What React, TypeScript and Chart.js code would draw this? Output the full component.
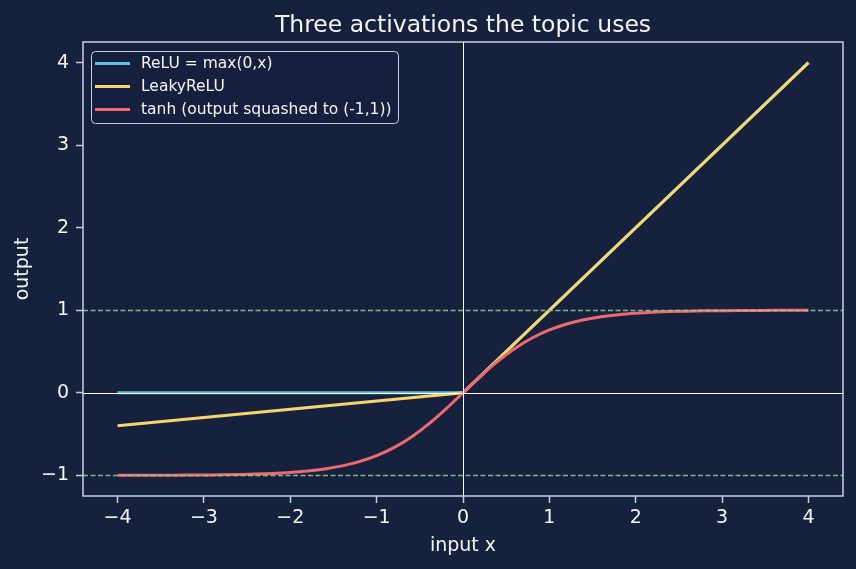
import React, { useEffect, useRef } from "react";
import { Chart, registerables } from "chart.js";

Chart.register(...registerables);

const TITLE = "Three activations the topic uses";
const X_LABEL = "input x";
const Y_LABEL = "output";

const xTicks = [-4, -3, -2, -1, 0, 1, 2, 3, 4];
const yTicks = [-1, 0, 1, 2, 3, 4];
const xRange = [-4.4, 4.4];
const yRange = [-1.25, 4.25];

const reluX = [-4, 0, 4];
const reluY = [0, 0, 4];
const leakyX = [-4, 0, 4];
const leakyY = [-0.4, 0, 4];

const tanhX = [
  -4, -3.8, -3.6, -3.4, -3.2, -3, -2.8, -2.6, -2.4, -2.2, -2, -1.8, -1.6, -1.4,
  -1.2, -1, -0.8, -0.6, -0.4, -0.2, 0, 0.2, 0.4, 0.6, 0.8, 1, 1.2, 1.4, 1.6,
  1.8, 2, 2.2, 2.4, 2.6, 2.8, 3, 3.2, 3.4, 3.6, 3.8, 4,
];
const tanhY = [
  -0.999, -0.999, -0.999, -0.998, -0.997, -0.995, -0.993, -0.989, -0.984,
  -0.976, -0.964, -0.947, -0.922, -0.885, -0.834, -0.762, -0.664, -0.537,
  -0.38, -0.197, 0, 0.197, 0.38, 0.537, 0.664, 0.762, 0.834, 0.885, 0.922,
  0.947, 0.964, 0.976, 0.984, 0.989, 0.993, 0.995, 0.997, 0.998, 0.999, 0.999,
  0.999,
];

const seriesNames = ["ReLU = max(0,x)", "LeakyReLU", "tanh (output squashed to (-1,1))"];
const bounds = [-1, 1];
const zeroLines = [0];

const BG = "#16213e";
const FG = "#f4f4f4";
const SPINE = "#c9d0e6";
const C_RELU = "#5bc3de";
const C_LEAKY = "#f5d56c";
const C_TANH = "#ef6a70";
const C_BOUND = "rgba(150, 210, 140, 0.85)";
const FONT = "'DejaVu Sans', sans-serif";

const pts = (xs: number[], ys: number[]) => xs.map((x, i) => ({ x, y: ys[i] }));

export default function App() {
  const ref = useRef<HTMLCanvasElement | null>(null);

  useEffect(() => {
    document.body.style.margin = "0";
    document.body.style.background = BG;
    const canvas = ref.current;
    if (!canvas) return;

    const bgPlugin = {
      id: "bg",
      beforeDraw(chart: any) {
        const { ctx, width, height } = chart;
        ctx.save();
        ctx.fillStyle = BG;
        ctx.fillRect(0, 0, width, height);
        ctx.restore();
      },
    };

    const refLinesPlugin = {
      id: "refLines",
      afterDatasetsDraw(chart: any) {
        const { ctx, chartArea: a, scales } = chart;
        ctx.save();
        ctx.beginPath();
        ctx.rect(a.left, a.top, a.right - a.left, a.bottom - a.top);
        ctx.clip();
        // dashed bounds
        ctx.strokeStyle = C_BOUND;
        ctx.lineWidth = 1.3;
        ctx.setLineDash([5, 2.5]);
        bounds.forEach((b) => {
          const y = Math.round(scales.y.getPixelForValue(b)) + 0.5;
          ctx.beginPath();
          ctx.moveTo(a.left, y);
          ctx.lineTo(a.right, y);
          ctx.stroke();
        });
        ctx.setLineDash([]);
        ctx.strokeStyle = "#ffffff";
        ctx.lineWidth = 1;
        zeroLines.forEach((z) => {
          const y = Math.round(scales.y.getPixelForValue(z)) + 0.5;
          ctx.beginPath();
          ctx.moveTo(a.left, y);
          ctx.lineTo(a.right, y);
          ctx.stroke();
          const x = Math.round(scales.x.getPixelForValue(z)) + 0.5;
          ctx.beginPath();
          ctx.moveTo(x, a.top);
          ctx.lineTo(x, a.bottom);
          ctx.stroke();
        });
        ctx.restore();
      },
    };

    const framePlugin = {
      id: "frame",
      afterDraw(chart: any) {
        const { ctx, chartArea: a } = chart;
        ctx.save();
        ctx.strokeStyle = SPINE;
        ctx.lineWidth = 1.5;
        ctx.strokeRect(a.left, a.top, a.right - a.left, a.bottom - a.top);
        // title
        ctx.fillStyle = FG;
        ctx.font = `23.5px ${FONT}`;
        ctx.textAlign = "center";
        ctx.textBaseline = "alphabetic";
        ctx.fillText(TITLE, (a.left + a.right) / 2, 32);
        // legend
        const bx = a.left + 8;
        const by = a.top + 9;
        const bw = 307;
        const bh = 72;
        ctx.beginPath();
        ctx.roundRect(bx + 0.5, by + 0.5, bw, bh, 4);
        ctx.fillStyle = "rgba(22,33,62,0.8)";
        ctx.fill();
        ctx.strokeStyle = SPINE;
        ctx.lineWidth = 1;
        ctx.stroke();
        const colors = [C_RELU, C_LEAKY, C_TANH];
        ctx.font = `15.5px ${FONT}`;
        ctx.textAlign = "left";
        ctx.textBaseline = "middle";
        seriesNames.forEach((name, i) => {
          const y = by + 12.5 + i * 23;
          ctx.beginPath();
          ctx.strokeStyle = colors[i];
          ctx.lineWidth = 3;
          ctx.moveTo(bx + 4, y);
          ctx.lineTo(bx + 39, y);
          ctx.stroke();
          ctx.fillStyle = FG;
          ctx.fillText(name, bx + 50, y);
        });
        ctx.restore();
      },
    };

    const chart = new Chart(canvas, {
      type: "line",
      data: {
        datasets: [
          {
            label: seriesNames[0],
            data: pts(reluX, reluY),
            borderColor: C_RELU,
            borderWidth: 3,
            pointRadius: 0,
            order: 3,
          },
          {
            label: seriesNames[1],
            data: pts(leakyX, leakyY),
            borderColor: C_LEAKY,
            borderWidth: 3,
            pointRadius: 0,
            order: 2,
          },
          {
            label: seriesNames[2],
            data: pts(tanhX, tanhY),
            borderColor: C_TANH,
            borderWidth: 3,
            pointRadius: 0,
            cubicInterpolationMode: "monotone",
            order: 1,
          },
        ] as any,
      },
      options: {
        animation: false,
        responsive: false,
        layout: { padding: { top: 42, right: 13, left: 0, bottom: 0 } },
        plugins: {
          legend: { display: false },
          title: { display: false },
          tooltip: { enabled: false },
        },
        scales: {
          x: {
            type: "linear",
            min: xRange[0],
            max: xRange[1],
            afterBuildTicks: (s: any) => {
              s.ticks = xTicks.map((v) => ({ value: v }));
            },
            afterFit: (s: any) => {
              s.height = 73;
            },
            grid: {
              drawOnChartArea: false,
              drawTicks: true,
              tickLength: 7,
              tickWidth: 1.5,
              tickColor: SPINE,
            },
            border: { display: false },
            ticks: {
              color: FG,
              padding: 4,
              maxRotation: 0,
              autoSkip: false,
              font: { family: FONT, size: 19 },
              callback: (v: any) => (v < 0 ? "\u2212" + Math.abs(v) : String(v)),
            },
            title: {
              display: true,
              text: X_LABEL,
              color: FG,
              font: { family: FONT, size: 19 },
              padding: { top: 0, bottom: 12 },
            },
          },
          y: {
            type: "linear",
            min: yRange[0],
            max: yRange[1],
            afterBuildTicks: (s: any) => {
              s.ticks = yTicks.map((v) => ({ value: v }));
            },
            afterFit: (s: any) => {
              s.width = 83;
            },
            grid: {
              drawOnChartArea: false,
              drawTicks: true,
              tickLength: 7,
              tickWidth: 1.5,
              tickColor: SPINE,
            },
            border: { display: false },
            ticks: {
              color: FG,
              padding: 7,
              autoSkip: false,
              font: { family: FONT, size: 19 },
              callback: (v: any) => (v < 0 ? "\u2212" + Math.abs(v) : String(v)),
            },
            title: {
              display: true,
              text: Y_LABEL,
              color: FG,
              font: { family: FONT, size: 19 },
              padding: { top: 12, bottom: 0 },
            },
          },
        },
      },
      plugins: [bgPlugin, refLinesPlugin, framePlugin],
    });

    return () => chart.destroy();
  }, []);

  return (
    <div style={{ width: 856, height: 569, background: BG }}>
      <canvas ref={ref} width={856} height={569} style={{ display: "block" }} />
    </div>
  );
}
